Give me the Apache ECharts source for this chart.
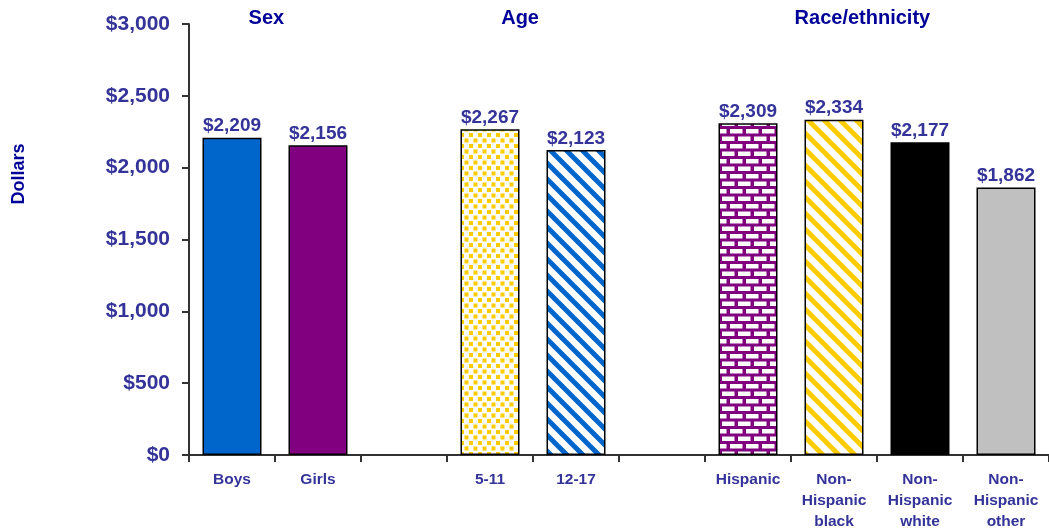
<!DOCTYPE html>
<html>
<head>
<meta charset="utf-8">
<script src="https://cdn.jsdelivr.net/npm/echarts@6/dist/echarts.min.js"></script>
<style>
html,body{margin:0;padding:0;background:#fff;}
#chart{width:1049px;height:531px;}
</style>
</head>
<body>
<div id="chart"></div>
<script>
// ---- data ----
var categories = ['Boys', 'Girls', '', '5-11', '12-17', '', 'Hispanic', 'Non-\nHispanic\nblack', 'Non-\nHispanic\nwhite', 'Non-\nHispanic\nother'];
var values = [2209, 2156, null, 2267, 2123, null, 2309, 2334, 2177, 1862];
var yTicks = [0, 500, 1000, 1500, 2000, 2500, 3000];
var groupTitles = ['Sex', 'Age', 'Race/ethnicity'];
var groupCenters = [0.4, 3.35, 7.33]; // position on the category scale of each group title

// ---- patterns ----
function mk(w, h, draw) {
  var c = document.createElement('canvas');
  c.width = w; c.height = h;
  var g = c.getContext('2d');
  g.fillStyle = '#fff'; g.fillRect(0, 0, w, h);
  draw(g, w, h);
  return { image: c, repeat: 'repeat' };
}
function stripes(color) {
  return mk(16, 16, function (g, s) {
    g.strokeStyle = color; g.lineWidth = 5;
    [-s, 0, s].forEach(function (c) {
      g.beginPath(); g.moveTo(c - 2, -2); g.lineTo(c + s + 2, s + 2); g.stroke();
    });
  });
}
var dots = mk(9, 11, function (g) {
  g.fillStyle = '#FFCC00';
  g.fillRect(1, 1, 4, 4);
  g.fillRect(5.5, 6.5, 4, 4);
  g.fillRect(-3.5, 6.5, 4, 4);
});
var bricks = mk(16, 15, function (g) {
  g.fillStyle = '#800080'; g.fillRect(0, 0, 16, 15);
  g.fillStyle = '#fff';
  g.fillRect(2, 1.5, 12.5, 4.5);
  g.fillRect(10, 9, 12.5, 4.5);
  g.fillRect(-6, 9, 12.5, 4.5);
});

var fills = ['#0066CC', '#800080', null, dots, stripes('#0066CC'), null, bricks, stripes('#FFCC00'), '#000000', '#C0C0C0'];

var labelColor = '#333399';
var chart = echarts.init(document.getElementById('chart'), null, { renderer: 'canvas' });

var seriesData = values.map(function (v, i) {
  if (v === null) return '-';
  return { value: v, itemStyle: { color: fills[i] } };
});

chart.setOption({
  animation: false,
  grid: { left: 189, right: 0, top: 24, bottom: 76, containLabel: false, outerBoundsMode: 'none' },
  xAxis: {
    type: 'category',
    data: categories,
    axisLine: { lineStyle: { color: '#333', width: 2 } },
    axisTick: { show: true, length: 7, lineStyle: { color: '#333', width: 2 } },
    axisLabel: {
      interval: 0, color: labelColor, fontFamily: 'Liberation Sans, Arial, sans-serif',
      fontWeight: 'bold', fontSize: 15.5, lineHeight: 21, margin: 14
    }
  },
  yAxis: {
    type: 'value',
    min: yTicks[0], max: yTicks[yTicks.length - 1], interval: 500,
    splitLine: { show: false },
    axisLine: { show: true, lineStyle: { color: '#333', width: 2 } },
    axisTick: { show: true, length: 7, lineStyle: { color: '#333', width: 2 } },
    axisLabel: {
      color: labelColor, fontFamily: 'Liberation Sans, Arial, sans-serif',
      fontWeight: 'bold', fontSize: 21, margin: 19,
      formatter: function (v) { return '$' + v.toLocaleString('en-US'); }
    }
  },
  series: [{
    type: 'bar',
    data: seriesData,
    barWidth: 59,
    itemStyle: { borderColor: '#000', borderWidth: 1.5 },
    label: {
      show: true, position: 'top', distance: 2,
      color: labelColor, fontFamily: 'Liberation Sans, Arial, sans-serif',
      fontWeight: 'bold', fontSize: 19,
      formatter: function (p) { return '$' + p.value.toLocaleString('en-US'); }
    }
  }]
});

// group titles and axis name, positioned via the chart's own scale
var gfx = groupTitles.map(function (t, i) {
  var c = groupCenters[i];
  var i0 = Math.floor(c);
  var x0 = chart.convertToPixel({ xAxisIndex: 0 }, i0);
  var x1 = chart.convertToPixel({ xAxisIndex: 0 }, i0 + 1);
  return {
    type: 'text', x: x0 + (x1 - x0) * (c - i0), y: 18,
    style: {
      text: t, fill: '#000099', font: 'bold 20px "Liberation Sans", Arial, sans-serif',
      align: 'center', verticalAlign: 'middle'
    }
  };
});
gfx.push({
  type: 'text', x: 19, y: 174, rotation: Math.PI / 2,
  style: {
    text: 'Dollars', fill: '#000099', font: 'bold 18px "Liberation Sans", Arial, sans-serif',
    align: 'center', verticalAlign: 'middle'
  }
});
chart.setOption({ graphic: gfx });
</script>
</body>
</html>
